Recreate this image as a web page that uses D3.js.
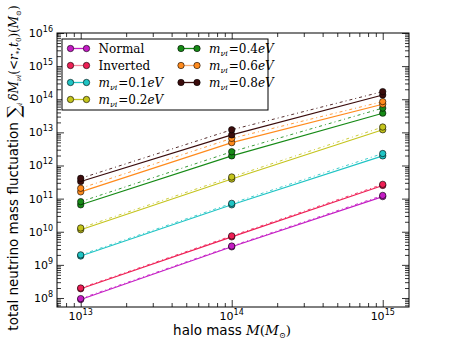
<!DOCTYPE html>
<html><head><meta charset="utf-8">
<script src="https://cdn.jsdelivr.net/npm/d3@7"></script>
<style>body{margin:0;background:#fff}svg{display:block}</style>
</head><body>
<script>
// ---- data ----
const haloMass = [1e13, 1e14, 1e15];
const seriesNames = ["Normal", "Inverted", "m=0.1eV", "m=0.2eV", "m=0.4eV", "m=0.6eV", "m=0.8eV"];
const seriesLabels = ["Normal", "Inverted", "0.1", "0.2", "0.4", "0.6", "0.8"];
const seriesColors = ["#c41cc4", "#ee1f55", "#1fc4c4", "#c4c41c", "#168a16", "#ff8a1c", "#3b0c0c"];
const legendLineColors = ["#c41cc4", "#f58aa0", "#1fc4c4", "#c4c41c", "#168a16", "#f5b07a", "#3b0c0c"];
// solid-line values (lower) and dashed-line values (upper)
const solidVals = [
  [9.0e7, 3.5e9, 1.15e11],
  [1.9e8, 7.0e9, 2.5e11],
  [1.85e9, 6.5e10, 1.95e12],
  [1.15e10, 3.9e11, 1.2e13],
  [6.5e10, 1.95e12, 3.8e13],
  [1.6e11, 4.9e12, 7.1e13],
  [3.3e11, 8.4e12, 1.35e14]
];
const dashedVals = [
  [9.6e7, 3.7e9, 1.25e11],
  [2.0e8, 7.5e9, 2.7e11],
  [2.0e9, 7.2e10, 2.3e12],
  [1.3e10, 4.5e11, 1.45e13],
  [8.1e10, 2.6e12, 5.4e13],
  [2.05e11, 6.6e12, 8.5e13],
  [4.1e11, 1.2e13, 1.7e14]
];
const xTickExps = [13, 14, 15];
const yTickExps = [8, 9, 10, 11, 12, 13, 14, 15, 16];

// ---- layout ----
const W = 455, H = 341;
const L = 57, R = 409, T = 33, B = 307;
const svg = d3.select("body").append("svg").attr("width", W).attr("height", H);
const x = d3.scaleLog().domain([Math.pow(10, 12.843), Math.pow(10, 15.174)]).range([L, R]);
const y = d3.scaleLog().domain([Math.pow(10, 7.728), 1e16]).range([B, T]);

const sans = "'DejaVu Sans', sans-serif";
const serif = "'DejaVu Serif', 'Liberation Serif', serif";

// minor ticks
function minorTicks(sc, lo, hi) {
  const out = [];
  for (let e = lo; e <= hi; e++) for (let k = 2; k <= 9; k++) {
    const v = k * Math.pow(10, e);
    const d = sc.domain();
    if (v > d[0] && v < d[1]) out.push(v);
  }
  return out;
}
const xMajor = xTickExps.map(e => Math.pow(10, e));
const yMajor = yTickExps.map(e => Math.pow(10, e));
const xMinor = minorTicks(x, 12, 15);
const yMinor = minorTicks(y, 7, 15);

function drawAxis(gen, tr, vals, size) {
  const g = svg.append("g").attr("transform", tr)
    .call(gen.tickValues(vals).tickSizeInner(-size).tickSizeOuter(0).tickFormat(""));
  g.select(".domain").remove();
  g.selectAll(".tick line").attr("stroke", "#000").attr("stroke-width", 0.8);
  return g;
}
drawAxis(d3.axisBottom(x), `translate(0,${B})`, xMajor, 7);
drawAxis(d3.axisBottom(x), `translate(0,${B})`, xMinor, 4);
drawAxis(d3.axisTop(x), `translate(0,${T})`, xMajor, 7);
drawAxis(d3.axisTop(x), `translate(0,${T})`, xMinor, 4);
drawAxis(d3.axisLeft(y), `translate(${L},0)`, yMajor, 7);
drawAxis(d3.axisLeft(y), `translate(${L},0)`, yMinor, 4);
drawAxis(d3.axisRight(y), `translate(${R},0)`, yMajor, 7);
drawAxis(d3.axisRight(y), `translate(${R},0)`, yMinor, 4);

// tick labels
xTickExps.forEach(e => {
  const t = svg.append("text").attr("x", x(Math.pow(10, e))).attr("y", B + 13)
    .attr("text-anchor", "middle").attr("font-family", sans).attr("font-size", 11);
  t.append("tspan").text("10");
  t.append("tspan").attr("dy", -5).attr("font-size", 8).text(e);
});
yTickExps.forEach(e => {
  const t = svg.append("text").attr("x", L - 4).attr("y", y(Math.pow(10, e)) + 4)
    .attr("text-anchor", "end").attr("font-family", sans).attr("font-size", 11);
  t.append("tspan").text("10");
  t.append("tspan").attr("dy", -5).attr("font-size", 8).text(e);
});

// lines
const plot = svg.append("g");
const line = d3.line().x((d, i) => x(haloMass[i])).y(d => y(d));
seriesNames.forEach((n, s) => {
  plot.append("path").datum(solidVals[s]).attr("d", line).attr("fill", "none")
    .attr("stroke", seriesColors[s]).attr("stroke-width", 1.1);
  plot.append("path").datum(dashedVals[s]).attr("d", line).attr("fill", "none")
    .attr("stroke", seriesColors[s]).attr("stroke-width", 1).attr("stroke-opacity", 0.85)
    .attr("stroke-dasharray", "3,3,1,3");
});
seriesNames.forEach((n, s) => {
  [solidVals[s], dashedVals[s]].forEach(vals => {
    plot.selectAll(null).data(vals).enter().append("circle")
      .attr("cx", (d, i) => x(haloMass[i])).attr("cy", d => y(d)).attr("r", 3.2)
      .attr("fill", seriesColors[s]).attr("stroke", "#000").attr("stroke-width", 0.6);
  });
});

// frame
svg.append("rect").attr("x", L).attr("y", T).attr("width", R - L).attr("height", B - T)
  .attr("fill", "none").attr("stroke", "#000").attr("stroke-width", 1);

// legend
const lg = svg.append("g");
lg.append("rect").attr("x", 62).attr("y", 39).attr("width", 206).attr("height", 71)
  .attr("fill", "#fff").attr("stroke", "#000").attr("stroke-width", 1);
seriesNames.forEach((n, s) => {
  const col = s < 4 ? 0 : 1;
  const row = s < 4 ? s : s - 4;
  const x0 = col === 0 ? 70.5 : 181;
  const yy = 48.5 + row * 17;
  lg.append("line").attr("x1", x0).attr("x2", x0 + 16).attr("y1", yy).attr("y2", yy)
    .attr("stroke", legendLineColors[s]).attr("stroke-width", 1.3);
  [x0, x0 + 16].forEach(cx => lg.append("circle").attr("cx", cx).attr("cy", yy).attr("r", 3.2)
    .attr("fill", seriesColors[s]).attr("stroke", "#000").attr("stroke-width", 0.6));
  const t = lg.append("text").attr("x", x0 + 28).attr("y", yy + 4)
    .attr("font-family", serif).attr("font-size", 12);
  if (s < 2) {
    t.text(seriesLabels[s]);
  } else {
    t.append("tspan").attr("font-style", "italic").text("m");
    t.append("tspan").attr("font-style", "italic").attr("font-size", 8).attr("dy", 3).text("νi");
    t.append("tspan").attr("dy", -3).attr("dx", 1).text("=" + seriesLabels[s]);
    t.append("tspan").attr("font-style", "italic").text("eV");
  }
});

// x label
const xl = svg.append("text").attr("x", 232).attr("y", 335).attr("text-anchor", "middle")
  .attr("font-family", sans).attr("font-size", 13.5);
xl.append("tspan").text("halo mass ");
xl.append("tspan").attr("font-family", serif).attr("font-style", "italic").text("M");
xl.append("tspan").attr("font-family", serif).text("(");
xl.append("tspan").attr("font-family", serif).attr("font-style", "italic").text("M");
xl.append("tspan").attr("font-family", serif).attr("font-size", 8).attr("dy", 3).text("⊙");
xl.append("tspan").attr("font-family", serif).attr("dy", -3).text(")");

// y label
const yl = svg.append("text").attr("transform", "translate(18,168) rotate(-90)")
  .attr("text-anchor", "middle").attr("font-family", sans).attr("font-size", 13.5);
yl.append("tspan").text("total neutrino mass fluctuation ");
yl.append("tspan").attr("font-family", serif).attr("font-size", 18).attr("dy", 2).text("∑");
yl.append("tspan").attr("font-family", serif).attr("font-style", "italic").attr("font-size", 7).attr("dy", 2).text("i");
yl.append("tspan").attr("font-family", serif).attr("font-style", "italic").attr("font-size", 12).attr("dy", -4).attr("dx", 2).text("δM");
yl.append("tspan").attr("font-family", serif).attr("font-style", "italic").attr("font-size", 7).attr("dy", 3).text("νi");
yl.append("tspan").attr("font-family", serif).attr("font-size", 12).attr("dy", -3).text("(<");
yl.append("tspan").attr("font-family", serif).attr("font-style", "italic").attr("font-size", 12).text("r");
yl.append("tspan").attr("font-family", serif).attr("font-size", 7).attr("dy", 3).text("*");
yl.append("tspan").attr("font-family", serif).attr("font-size", 12).attr("dy", -3).text(",");
yl.append("tspan").attr("font-family", serif).attr("font-style", "italic").attr("font-size", 12).text("t");
yl.append("tspan").attr("font-family", serif).attr("font-size", 7).attr("dy", 3).text("0");
yl.append("tspan").attr("font-family", serif).attr("font-size", 12).attr("dy", -3).text(")(");
yl.append("tspan").attr("font-family", serif).attr("font-style", "italic").attr("font-size", 12).text("M");
yl.append("tspan").attr("font-family", serif).attr("font-size", 7).attr("dy", 3).text("⊙");
yl.append("tspan").attr("font-family", serif).attr("font-size", 12).attr("dy", -3).text(")");
</script>
</body></html>
